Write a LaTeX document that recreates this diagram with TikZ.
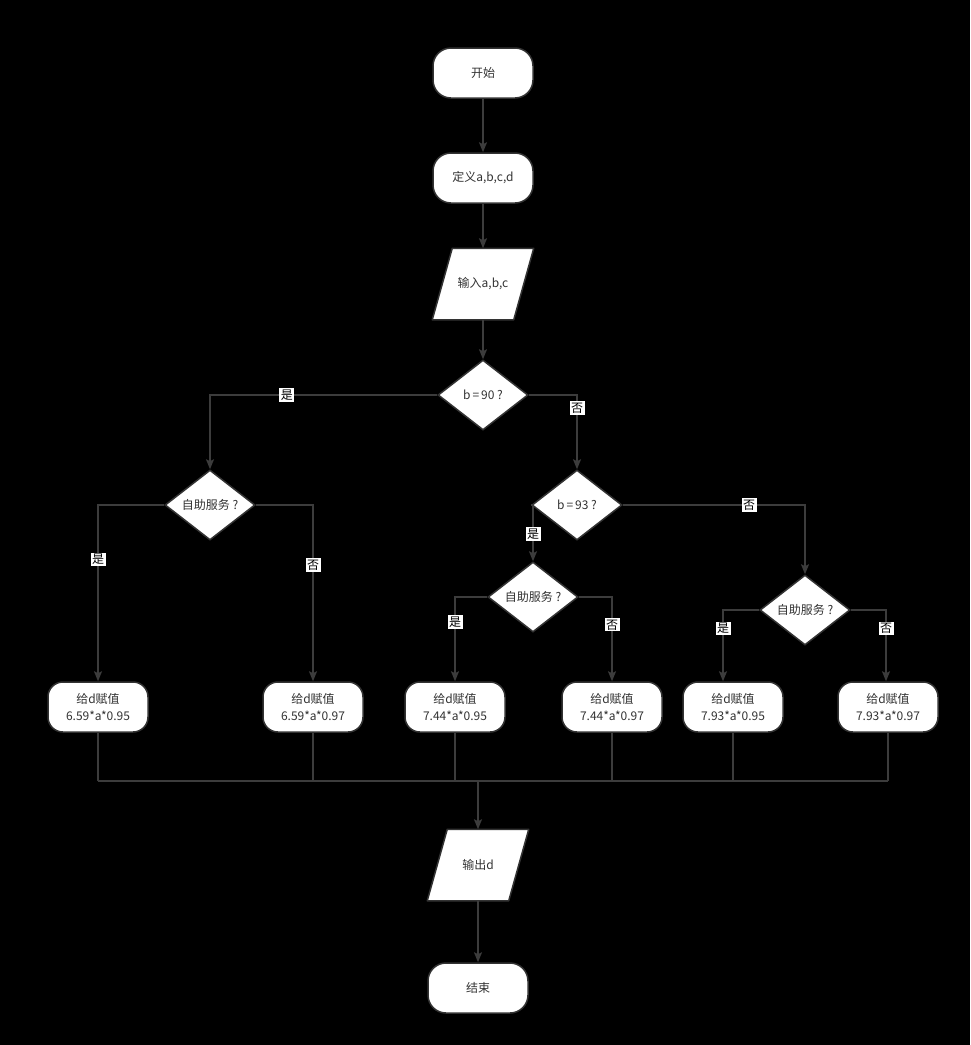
\documentclass[tikz,border=0pt]{standalone}
\usepackage{fontspec}
\setmainfont{Noto Sans CJK SC}
\usetikzlibrary{shapes.geometric,arrows.meta}
\definecolor{lncol}{HTML}{3C3C3C}
\definecolor{bdcol}{HTML}{333333}
\pgfdeclarelayer{bglayer}
\pgfdeclarelayer{shapelayer}
\pgfsetlayers{bglayer,shapelayer,main}
\begin{document}
\begin{tikzpicture}[x=1pt,y=-1pt,
  base/.style={draw=bdcol, line width=1.5pt, fill=white, text=bdcol, font=\fontsize{12}{17}\selectfont, align=center, inner sep=2pt},
  term/.style={base, rounded corners=18pt, minimum width=100pt, minimum height=50pt},
  proc/.style={base, rounded corners=15pt, minimum width=100pt, minimum height=50pt},
  io/.style={base, draw=none, fill=none, rectangle, minimum width=100pt, minimum height=70pt},
  ioshape/.style={draw=bdcol, line width=1.5pt, fill=white, line join=round},
  dec/.style={base, diamond, minimum width=90pt, minimum height=70pt, inner sep=0pt},
  conn/.style={draw=lncol, line width=1.5pt},
  arr/.style={conn, -{Stealth[length=10pt,width=8pt,inset=2pt]}},
  lab/.style={fill=white, text=black, inner sep=1.5pt, font=\fontsize{12}{14}\selectfont}
]
\begin{pgfonlayer}{bglayer}
\fill[black] (0,0) rectangle (970,1045);
\end{pgfonlayer}
\useasboundingbox (0,0) rectangle (970,1045);

\node[term] (start) at (483,73) {开始};
\node[term] (def) at (483,178) {定义a,b,c,d};
\node[io] (in) at (483,284) {输入a,b,c};
\node[dec] (d90) at (483,395) {b\,=\,90 ?};
\node[dec] (dl) at (210,505) {自助服务 ?};
\node[dec] (d93) at (577,505) {b\,=\,93 ?};
\node[dec] (dm) at (533,597) {自助服务 ?};
\node[dec] (dr) at (805,610) {自助服务 ?};

\node[proc] (b1) at (98,707) {给d赋值\\6.59*a*0.95};
\node[proc] (b2) at (313,707) {给d赋值\\6.59*a*0.97};
\node[proc] (b3) at (455,707) {给d赋值\\7.44*a*0.95};
\node[proc] (b4) at (612,707) {给d赋值\\7.44*a*0.97};
\node[proc] (b5) at (733,707) {给d赋值\\7.93*a*0.95};
\node[proc] (b6) at (888,707) {给d赋值\\7.93*a*0.97};

\node[io] (out) at (478,865) {输出d};
\node[term] (end) at (478,988) {结束};

\begin{pgfonlayer}{shapelayer}
\foreach \p in {in,out}{
  \draw[ioshape] ([xshift=20pt]\p.north west) -- (\p.north east) -- ([xshift=-20pt]\p.south east) -- (\p.south west) -- cycle;
}
\end{pgfonlayer}

\draw[arr] (start) -- (def);
\draw[arr] (def) -- (in);
\draw[arr] (in) -- (d90);

\draw[arr] (d90.west) -| node[lab,pos=0.331]{是} (dl.north);
\draw[arr] (d90.east) -| node[lab,pos=0.587]{否} (d93.north);
\draw[arr] (dl.west) -| node[lab,pos=0.655]{是} (b1.north);
\draw[arr] (dl.east) -| node[lab,pos=0.67]{否} (b2.north);
\draw[arr] (d93.west) -| node[lab,pos=0.76]{是} (dm.north);
\draw[arr] (d93.east) -| node[lab,pos=0.347]{否} (dr.north);
\draw[arr] (dm.west) -| node[lab,pos=0.647]{是} (b3.north);
\draw[arr] (dm.east) -| node[lab,pos=0.665]{否} (b4.north);
\draw[arr] (dr.west) -| node[lab,pos=0.63]{是} ([xshift=-10pt]b5.north);
\draw[arr] (dr.east) -| node[lab,pos=0.63]{否} ([xshift=-2pt]b6.north);

\coordinate (bus) at (478,781);
\foreach \b in {b1,b2,b3,b4,b5,b6}{
  \draw[conn] (\b.south) -- (\b.south |- bus);
}
\draw[conn] (b1.south |- bus) -- (b6.south |- bus);
\draw[arr] (bus) -- (out.north);
\draw[arr] (out) -- (end);
\end{tikzpicture}
\end{document}
